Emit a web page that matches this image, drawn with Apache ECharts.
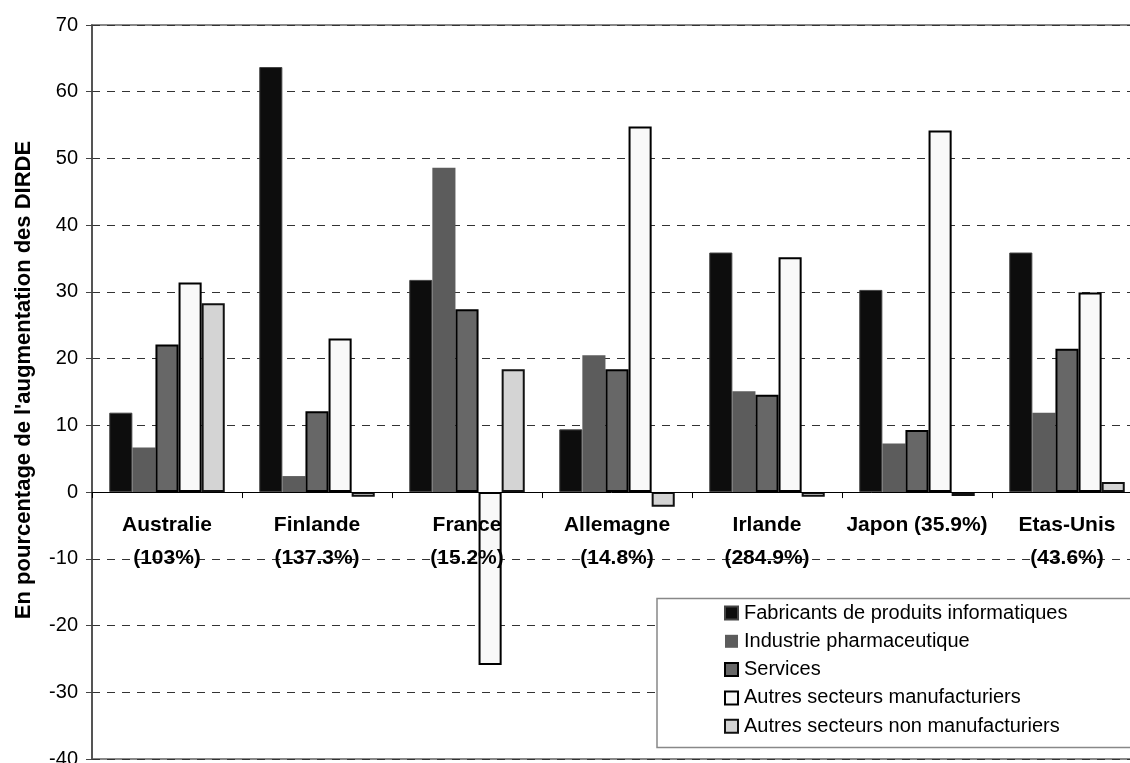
<!DOCTYPE html>
<html>
<head>
<meta charset="utf-8">
<title>DIRDE</title>
<script src="https://cdn.jsdelivr.net/npm/echarts@6/dist/echarts.min.js"></script>
<style>
  html, body { margin: 0; padding: 0; background: #fff; }
  #chart { width: 1130px; height: 763px; }
</style>
</head>
<body>
<div id="chart"></div>
<script>
// Pays (avec la croissance totale des DIRDE entre parenthèses)
var categories = [
  'Australie\n(103%)',
  'Finlande\n(137.3%)',
  'France\n(15.2%)',
  'Allemagne\n(14.8%)',
  'Irlande\n(284.9%)',
  'Japon (35.9%)',
  'Etas-Unis\n(43.6%)'
];

var seriesNames = [
  'Fabricants de produits informatiques',
  'Industrie pharmaceutique',
  'Services',
  'Autres secteurs manufacturiers',
  'Autres secteurs non manufacturiers'
];

// Contribution de chaque secteur à l'augmentation des DIRDE (%)
var fabricants     = [11.9, 63.7, 31.8,  9.4, 35.9, 30.3, 35.9];
var pharma         = [ 6.7,  2.4, 48.6, 20.5, 15.1,  7.3, 11.9];
var services       = [22.1, 12.1, 27.4, 18.4, 14.6,  9.3, 21.5];
var autresManuf    = [31.4, 23.0, -25.9, 54.8, 35.2, 54.2, 29.9];
var autresNonManuf = [28.3, -0.7, 18.4, -2.2, -0.7, -0.6, 1.5];

var yMin = -40, yMax = 70, yStep = 10;

var FONT = "'Liberation Sans', Arial, sans-serif";

// Zone de tracé (elle déborde volontairement à droite)
var GRID = { left: 92, top: 25, width: 1050, height: 734 };
// L'axe des pays est posé sur la ligne du zéro
var zeroOffset = -GRID.height * (0 - yMin) / (yMax - yMin);

var chart = echarts.init(document.getElementById('chart'), null, { renderer: 'canvas' });

function bar(name, data, fill, border, bw) {
  return {
    name: name,
    type: 'bar',
    data: data,
    barGap: '0%',
    barCategoryGap: '23%',
    itemStyle: { color: fill, borderColor: border, borderWidth: bw },
    z: 2
  };
}

chart.setOption({
  animation: false,
  backgroundColor: '#fff',
  textStyle: { fontFamily: FONT },
  grid: {
    left: GRID.left, top: GRID.top, width: GRID.width, height: GRID.height,
    outerBoundsMode: 'none',
    containLabel: false,
    show: true, borderColor: '#888', borderWidth: 2, backgroundColor: 'transparent'
  },
  legend: {
    orient: 'vertical',
    left: 719, top: 598,
    itemWidth: 13, itemHeight: 13, itemGap: 8.3,
    icon: 'rect',
    z: 5,
    textStyle: { fontFamily: FONT, fontSize: 20, color: '#000', lineHeight: 20, padding: [0, 0, 0, 1] },
    data: seriesNames
  },
  graphic: [{
    type: 'rect',
    z: 3,
    shape: { x: 657, y: 598.5, width: 520, height: 149 },
    style: { fill: '#fff', stroke: '#888', lineWidth: 1.5 }
  }],
  xAxis: {
    type: 'category',
    data: categories,
    position: 'bottom',
    offset: zeroOffset,
    z: 10,
    axisLine: { onZero: false, lineStyle: { color: '#000', width: 1 } },
    axisTick: { show: true, length: 6, lineStyle: { color: '#000' } },
    axisLabel: {
      interval: 0, margin: 17,
      fontFamily: FONT, fontSize: 21, fontWeight: 'bold', color: '#000',
      lineHeight: 33
    }
  },
  yAxis: {
    type: 'value',
    min: yMin, max: yMax, interval: yStep,
    name: "En pourcentage de l'augmentation des DIRDE",
    nameLocation: 'middle',
    nameGap: 57,
    nameTextStyle: { fontFamily: FONT, fontSize: 22, fontWeight: 'bold', color: '#000', padding: [0, 0, 0, 24] },
    axisLine: { show: true, lineStyle: { color: '#444', width: 1.5 } },
    axisTick: { show: true, length: 6, lineStyle: { color: '#444' } },
    axisLabel: { margin: 14, fontFamily: FONT, fontSize: 20, color: '#000' },
    splitLine: { show: true, lineStyle: { color: '#333', width: 1, type: [8, 7] } }
  },
  series: [
    bar(seriesNames[0], fabricants, '#0d0d0d', '#444', 1),
    bar(seriesNames[1], pharma, '#5c5c5c', '#5c5c5c', 0),
    bar(seriesNames[2], services, '#676767', '#000', 2),
    bar(seriesNames[3], autresManuf, '#f8f8f8', '#000', 2),
    bar(seriesNames[4], autresNonManuf, '#d4d4d4', '#111', 2)
  ]
});
</script>
</body>
</html>
